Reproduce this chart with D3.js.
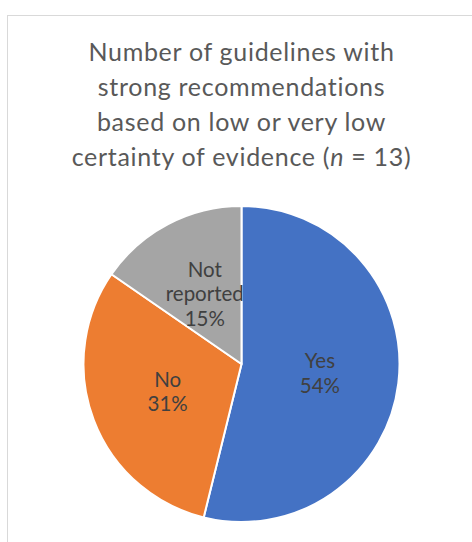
<!DOCTYPE html>
<html>
<head>
<meta charset="utf-8">
<script src="https://cdn.jsdelivr.net/npm/d3@7"></script>
<style>
  html, body { margin: 0; padding: 0; background: #fff; }
  svg { display: block; }
</style>
</head>
<body>
<svg id="chart" width="472" height="542"></svg>
<script>
const categories = ["Yes", "No", "Not reported"];
const counts = [7, 4, 2];
const percentLabels = ["54%", "31%", "15%"];
const labelLines = [["Yes"], ["No"], ["Not", "reported"]];
const colors = ["#4472C4", "#ED7D31", "#A5A5A5"];
const titleLines = [
  "Number of guidelines with",
  "strong recommendations",
  "based on low or very low",
  "certainty of evidence (", ")"
];

const svg = d3.select("#chart");
const font = "Lato, 'Open Sans', sans-serif";

// frame
svg.append("rect")
  .attr("x", 7.5).attr("y", 15.5)
  .attr("width", 600).attr("height", 700)
  .attr("fill", "#fff")
  .attr("stroke", "#d9d9d9").attr("stroke-width", 1);

// title
const title = svg.append("text")
  .attr("text-anchor", "middle")
  .attr("font-family", font)
  .attr("font-size", 25)
  .attr("letter-spacing", 0.7)
  .attr("fill", "#595959");
const tx = 241.5;
const baselines = [61, 96, 131, 166];
for (let i = 0; i < 3; i++) {
  title.append("tspan").attr("x", tx).attr("y", baselines[i]).text(titleLines[i]);
}
const last = title.append("tspan").attr("x", tx).attr("y", baselines[3]);
last.append("tspan").text(titleLines[3]);
last.append("tspan").attr("font-style", "italic").text("n");
last.append("tspan").text(" = " + d3.sum(counts) + titleLines[4]);

// pie
const cx = 241.5, cy = 364, r = 158;
const pie = d3.pie().sort(null).value(d => d.value);
const data = categories.map((c, i) => ({ name: c, value: counts[i], pct: percentLabels[i], lines: labelLines[i], color: colors[i] }));
const arcs = pie(data);
const arc = d3.arc().innerRadius(0).outerRadius(r);
const labelArc = d3.arc().innerRadius(0).outerRadius(r);

const g = svg.append("g").attr("transform", `translate(${cx},${cy})`);
g.selectAll("path").data(arcs).join("path")
  .attr("d", arc)
  .attr("fill", d => d.data.color)
  .attr("stroke", "#fff")
  .attr("stroke-width", 2)
  .attr("stroke-linejoin", "round");

const lh = 24.5;
arcs.forEach(a => {
  const [lx, ly] = labelArc.centroid(a);
  const lines = a.data.lines.concat([a.data.pct]);
  const n = lines.length;
  const t = g.append("text")
    .attr("text-anchor", "middle")
    .attr("font-family", font)
    .attr("font-size", 20.5)
    .attr("fill", "#404040");
  lines.forEach((s, i) => {
    t.append("tspan")
      .attr("x", lx)
      .attr("y", ly + (i - (n - 1) / 2) * lh + 7)
      .text(s);
  });
});
</script>
</body>
</html>
